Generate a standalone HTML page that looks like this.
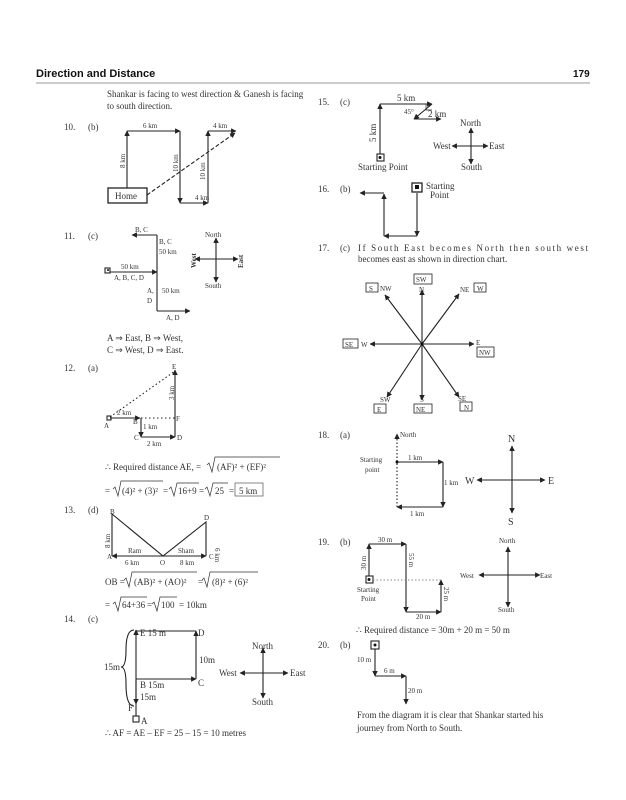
<!DOCTYPE html>
<html><head><meta charset="utf-8"><style>
html,body{margin:0;padding:0;background:#fff}
svg{display:block}
text{font-family:"Liberation Serif",serif;fill:#333}
.s{font-size:7px}.m{font-size:9px}.l{font-size:10px}.r{font-size:12px}
</style></head><body>
<svg width="626" height="800" viewBox="0 0 626 800" xmlns="http://www.w3.org/2000/svg">
<defs>
<marker id="a" viewBox="0 0 10 10" refX="9" refY="5" markerWidth="5" markerHeight="5" orient="auto-start-reverse"><path d="M0,0 L10,5 L0,10 z" fill="#222"/></marker>
</defs>
<g stroke="#222" stroke-width="1.1" fill="none">
<line x1="36" y1="83" x2="590" y2="83" stroke="#777" stroke-width="0.8"/>
<rect x="108" y="188" width="39" height="15" stroke-width="1.3"/>
<path d="M127,188 V131" marker-end="url(#a)"/>
<path d="M127,131 H180" marker-end="url(#a)"/>
<path d="M180,131 V203" marker-end="url(#a)"/>
<path d="M180,203 H208" marker-end="url(#a)"/>
<path d="M208,203 V131" marker-end="url(#a)"/>
<path d="M208,131 H236" marker-end="url(#a)"/>
<path d="M147,195 L235,133" stroke-dasharray="4,2" marker-end="url(#a)"/>
<rect x="105" y="268" width="5" height="5"/>
<path d="M110,272 H157" marker-end="url(#a)"/>
<path d="M157,272 V235"/>
<path d="M157,235 H132" marker-end="url(#a)"/>
<path d="M157,272 V311"/>
<path d="M157,311 H190" marker-end="url(#a)"/>
<path d="M216,259 V238" marker-end="url(#a)"/><path d="M216,259 V282" marker-end="url(#a)"/>
<path d="M216,259 H195" marker-end="url(#a)"/><path d="M216,259 H238" marker-end="url(#a)"/>
<rect x="107" y="416" width="4" height="4"/>
<path d="M110,418 H140" marker-end="url(#a)"/>
<path d="M141,418 V437" marker-end="url(#a)"/>
<path d="M141,437 H175" marker-end="url(#a)"/>
<path d="M175,437 V370" marker-end="url(#a)"/>
<path d="M110,417 L175,371" stroke-dasharray="1.5,2.5"/>
<path d="M141,418 H175" stroke-dasharray="1.5,2.5"/>
<path d="M112,556 V514 L163,556 L206,522 V556"/>
<path d="M163,556 H112" marker-end="url(#a)"/>
<path d="M163,556 H206" marker-end="url(#a)"/>
<rect x="133" y="716" width="6" height="6"/>
<path d="M136,716 V630" marker-end="url(#a)"/>
<path d="M136,631 H196" />
<path d="M196,679 V631" marker-end="url(#a)"/>
<path d="M136,679 H196" marker-end="url(#a)"/>
<path d="M136,680 V704" marker-end="url(#a)"/>
<path d="M134,630 Q126,630 126,650 Q126,667 121,667 Q126,667 126,684 Q126,706 134,706"/>
<path d="M263,673 V648" marker-end="url(#a)"/><path d="M263,673 V698" marker-end="url(#a)"/>
<path d="M263,673 H240" marker-end="url(#a)"/><path d="M263,673 H288" marker-end="url(#a)"/>
<rect x="377" y="154" width="7" height="7"/>
<path d="M380,154 V104" marker-end="url(#a)"/>
<path d="M380,104 H432" marker-end="url(#a)"/>
<path d="M432,104 L414,119" marker-end="url(#a)"/>
<path d="M414,119 H441" marker-end="url(#a)"/>
<path d="M426,104 V110 H432" stroke-width="0.7"/>
<path d="M471,146 V128" marker-end="url(#a)"/><path d="M471,146 V164" marker-end="url(#a)"/>
<path d="M471,146 H452" marker-end="url(#a)"/><path d="M471,146 H488" marker-end="url(#a)"/>
<rect x="412" y="183" width="10" height="9" stroke-width="1.3"/>
<path d="M417,193 V236" marker-end="url(#a)"/>
<path d="M417,236 H384" marker-end="url(#a)"/>
<path d="M384,236 V194" marker-end="url(#a)"/>
<path d="M384,193 H360" marker-end="url(#a)"/>
<path d="M422,344 V290" marker-end="url(#a)"/><path d="M422,344 V400" marker-end="url(#a)"/>
<path d="M422,344 H370" marker-end="url(#a)"/><path d="M422,344 H474" marker-end="url(#a)"/>
<path d="M422,344 L385,295" marker-end="url(#a)"/><path d="M422,344 L459,294" marker-end="url(#a)"/>
<path d="M422,344 L387,397" marker-end="url(#a)"/><path d="M422,344 L459,397" marker-end="url(#a)"/>
<g stroke-width="0.8">
<rect x="414" y="274" width="18" height="10"/><rect x="366" y="283" width="12" height="9"/>
<rect x="474" y="283" width="12" height="9"/><rect x="343" y="339" width="15" height="9"/>
<rect x="477" y="347" width="17" height="10"/><rect x="374" y="404" width="12" height="9"/>
<rect x="414" y="404" width="18" height="9"/><rect x="460" y="402" width="12" height="9"/>
</g>
<path d="M397,507 V434" stroke-dasharray="1.5,2" marker-end="url(#a)"/>
<path d="M397,462 H443" marker-end="url(#a)"/>
<path d="M443,462 V507" marker-end="url(#a)"/>
<path d="M443,507 H397" marker-end="url(#a)"/>
<path d="M512,480 V446" marker-end="url(#a)"/><path d="M512,480 V513" marker-end="url(#a)"/>
<path d="M512,480 H477" marker-end="url(#a)"/><path d="M512,480 H545" marker-end="url(#a)"/>
<rect x="366" y="576" width="7" height="7"/>
<path d="M369,576 V544" marker-end="url(#a)"/>
<path d="M369,544 H406" marker-end="url(#a)"/>
<path d="M406,544 V612" marker-end="url(#a)"/>
<path d="M406,612 H441" marker-end="url(#a)"/>
<path d="M441,612 V580" marker-end="url(#a)"/>
<path d="M373,580 H441" stroke-dasharray="1.5,2" stroke="#888"/>
<path d="M508,575 V547" marker-end="url(#a)"/><path d="M508,575 V607" marker-end="url(#a)"/>
<path d="M508,575 H479" marker-end="url(#a)"/><path d="M508,575 H540" marker-end="url(#a)"/>
<rect x="371" y="641" width="8" height="8"/>
<path d="M375,649 V676" marker-end="url(#a)"/>
<path d="M375,676 H406" marker-end="url(#a)"/>
<path d="M406,676 V704" marker-end="url(#a)"/>
<!-- radicals -->
<g stroke="#333" stroke-width="0.7">
<path d="M207,465 L209,463 L212,472 L215,457 H280"/>
<path d="M113,489 L115,487 L118,496 L121,481 H163"/>
<path d="M169,489 L171,487 L174,496 L177,483 H199"/>
<path d="M205,489 L207,487 L210,496 L213,483 H228"/>
<path d="M124,580 L126,578 L129,587 L132,572 H197"/>
<path d="M202,580 L204,578 L207,587 L210,572 H258"/>
<path d="M113,604 L115,602 L118,611 L121,597 H147"/>
<path d="M152,604 L154,602 L157,611 L160,597 H177"/>
</g>
<rect x="235" y="483" width="28" height="13" stroke="#555" stroke-width="0.7"/>
</g>
<g fill="#111">
<circle cx="380" cy="157.5" r="1.5"/><rect x="415" y="185" width="4" height="4"/>
<circle cx="422" cy="344" r="1.5"/><circle cx="397" cy="462" r="1.5"/>
<circle cx="369" cy="579.5" r="1.5"/><circle cx="375" cy="645" r="1.5"/>
<circle cx="108" cy="270" r="1"/>
</g>
<text x="36" y="77" style="font-family:'Liberation Sans',sans-serif;font-weight:bold;font-size:11px;fill:#111">Direction and Distance</text>
<text x="573" y="77" style="font-family:'Liberation Sans',sans-serif;font-weight:bold;font-size:10px;fill:#111">179</text>
<text class="m" x="107" y="97">Shankar is facing to west direction &amp; Ganesh is facing</text>
<text class="m" x="107" y="109">to south direction.</text>
<text class="m" x="64" y="130">10.</text><text class="m" x="88" y="130">(b)</text>
<text class="s" x="143" y="128">6 km</text><text class="s" x="213" y="128">4 km</text>
<text class="s" x="195" y="200">4 km</text>
<text class="m" x="115" y="199">Home</text>
<text class="s" transform="translate(125,168) rotate(-90)">8 km</text>
<text class="s" transform="translate(178,172) rotate(-90)">10 km</text>
<text class="s" transform="translate(205,180) rotate(-90)">10 km</text>
<text class="m" x="64" y="239">11.</text><text class="m" x="88" y="239">(c)</text>
<text class="s" x="135" y="232">B, C</text><text class="s" x="159" y="244">B, C</text><text class="s" x="159" y="254">50 km</text>
<text class="s" x="121" y="269">50 km</text><text class="s" x="114" y="280">A, B, C, D</text>
<text class="s" x="147" y="293">A,</text><text class="s" x="147" y="303">D</text><text class="s" x="162" y="293">50 km</text>
<text class="s" x="166" y="320">A, D</text>
<text class="s" x="205" y="237">North</text><text class="s" x="205" y="288">South</text>
<text class="s" style="font-weight:bold" transform="translate(196,268) rotate(-90)">West</text>
<text class="s" style="font-weight:bold" transform="translate(243,268) rotate(-90)">East</text>
<text class="m" x="107" y="341">A ⇒ East, B ⇒ West,</text>
<text class="m" x="107" y="353">C ⇒ West, D ⇒ East.</text>
<text class="m" x="64" y="371">12.</text><text class="m" x="88" y="371">(a)</text>
<text class="s" x="172" y="369">E</text><text class="s" transform="translate(174,400) rotate(-90)">3 km</text>
<text class="s" x="117" y="415">2 km</text><text class="s" x="104" y="428">A</text><text class="s" x="133" y="424">B</text>
<text class="s" x="176" y="421">F</text><text class="s" x="143" y="429">1 km</text>
<text class="s" x="134" y="440">C</text><text class="s" x="177" y="440">D</text><text class="s" x="147" y="446">2 km</text>
<text class="m" x="105" y="470">∴ Required distance AE, =</text>
<text class="m" x="217" y="470">(AF)² + (EF)²</text>
<text class="m" x="105" y="494">=</text><text class="m" x="122" y="494">(4)² + (3)²</text>
<text class="m" x="163" y="494">=</text><text class="m" x="178" y="494">16+9</text>
<text class="m" x="199" y="494">=</text><text class="m" x="215" y="494">25</text>
<text class="m" x="229" y="494">=</text><text class="m" x="239" y="494">5 km</text>
<text class="m" x="64" y="513">13.</text><text class="m" x="88" y="513">(d)</text>
<text class="s" x="110" y="514">B</text><text class="s" x="204" y="520">D</text><text class="s" x="107" y="559">A</text><text class="s" x="209" y="559">C</text>
<text class="s" x="128" y="553">Ram</text><text class="s" x="178" y="553">Sham</text>
<text class="s" x="125" y="565">6 km</text><text class="s" x="160" y="565">O</text><text class="s" x="180" y="565">8 km</text>
<text class="s" transform="translate(110,548) rotate(-90)">8 km</text>
<text class="s" transform="translate(215,548) rotate(90)">6 km</text>
<text class="m" x="105" y="585">OB =</text><text class="m" x="134" y="585">(AB)² + (AO)²</text>
<text class="m" x="198" y="585">=</text><text class="m" x="212" y="585">(8)² + (6)²</text>
<text class="m" x="105" y="608">=</text><text class="m" x="122" y="608">64+36</text>
<text class="m" x="147" y="608">=</text><text class="m" x="161" y="608">100</text>
<text class="m" x="179" y="608">= 10km</text>
<text class="m" x="64" y="622">14.</text><text class="m" x="88" y="622">(c)</text>
<text class="m" x="140" y="636">E  15 m</text><text class="m" x="198" y="636">D</text>
<text class="m" x="199" y="663">10m</text><text class="m" x="198" y="686">C</text>
<text class="m" x="140" y="688">B   15m</text><text class="m" x="140" y="700">15m</text>
<text class="m" x="128" y="711">F</text><text class="m" x="141" y="724">A</text>
<text class="m" x="104" y="670">15m</text>
<text class="m" x="252" y="649">North</text><text class="m" x="219" y="676">West</text><text class="m" x="290" y="676">East</text><text class="m" x="252" y="705">South</text>
<text class="m" x="105" y="736">∴ AF = AE – EF = 25 – 15 = 10 metres</text>
<text class="m" x="318" y="105">15.</text><text class="m" x="340" y="105">(c)</text>
<text class="m" x="397" y="101">5 km</text><text class="s" x="404" y="114">45°</text><text class="m" x="428" y="117">2 km</text>
<text class="m" transform="translate(376,142) rotate(-90)">5 km</text>
<text class="m" x="358" y="170">Starting Point</text>
<text class="m" x="460" y="126">North</text><text class="m" x="433" y="149">West</text><text class="m" x="489" y="149">East</text><text class="m" x="461" y="170">South</text>
<text class="m" x="318" y="192">16.</text><text class="m" x="340" y="192">(b)</text>
<text class="m" x="426" y="189">Starting</text><text class="m" x="430" y="198">Point</text>
<text class="m" x="318" y="251">17.</text><text class="m" x="340" y="251">(c)</text>
<text class="m" x="358" y="251" textLength="230">If South East becomes North then south west</text>
<text class="m" x="358" y="262">becomes east as shown in direction chart.</text>
<text class="s" x="416" y="282">SW</text><text class="s" x="419" y="292">N</text>
<text class="s" x="369" y="291">S</text><text class="s" x="380" y="291">NW</text>
<text class="s" x="460" y="292">NE</text><text class="s" x="477" y="291">W</text>
<text class="s" x="345" y="347">SE</text><text class="s" x="361" y="347">W</text>
<text class="s" x="476" y="345">E</text><text class="s" x="479" y="355">NW</text>
<text class="s" x="380" y="402">SW</text><text class="s" x="377" y="412">E</text>
<text class="s" x="420" y="402">S</text><text class="s" x="416" y="412">NE</text>
<text class="s" x="458" y="401">SE</text><text class="s" x="464" y="410">N</text>
<text class="m" x="318" y="438">18.</text><text class="m" x="340" y="438">(a)</text>
<text class="s" x="400" y="437">North</text>
<text class="s" x="360" y="462">Starting</text><text class="s" x="365" y="472">point</text>
<text class="s" x="408" y="460">1 km</text><text class="s" x="444" y="485">1 km</text><text class="s" x="410" y="516">1 km</text>
<text class="l" x="508" y="442">N</text><text class="l" x="465" y="484">W</text><text class="l" x="548" y="484">E</text><text class="l" x="508" y="525">S</text>
<text class="m" x="318" y="545">19.</text><text class="m" x="340" y="545">(b)</text>
<text class="s" x="378" y="542">30 m</text>
<text class="s" transform="translate(366,570) rotate(-90)">30 m</text>
<text class="s" transform="translate(409,553) rotate(90)">55 m</text>
<text class="s" transform="translate(444,587) rotate(90)">25 m</text>
<text class="s" x="357" y="592">Starting</text><text class="s" x="361" y="601">Point</text>
<text class="s" x="416" y="619">20 m</text>
<text class="s" x="499" y="543">North</text><text class="s" x="460" y="578">West</text><text class="s" x="540" y="578">East</text><text class="s" x="498" y="612">South</text>
<text class="m" x="356" y="633">∴ Required distance = 30m + 20 m = 50 m</text>
<text class="m" x="318" y="648">20.</text><text class="m" x="340" y="648">(b)</text>
<text class="s" x="357" y="662">10 m</text><text class="s" x="384" y="673">6 m</text><text class="s" x="408" y="693">20 m</text>
<text class="m" x="357" y="718">From the diagram it is clear that Shankar started his</text>
<text class="m" x="357" y="731">journey from North to South.</text>
</svg>
</body></html>
